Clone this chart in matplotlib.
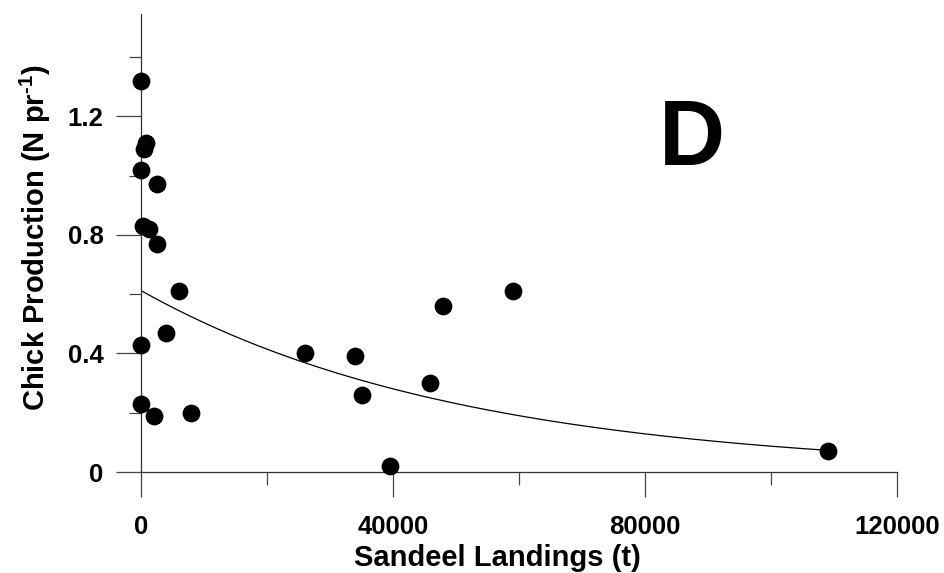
import numpy as np
import matplotlib
matplotlib.use("Agg")
import matplotlib.pyplot as plt
from matplotlib.ticker import FixedLocator

plt.rcParams["font.family"] = ["Liberation Sans", "DejaVu Sans"]
plt.rcParams["font.weight"] = "bold"
plt.rcParams["mathtext.fontset"] = "custom"
plt.rcParams["mathtext.rm"] = "Liberation Sans:bold"
plt.rcParams["mathtext.it"] = "Liberation Sans:bold"
plt.rcParams["mathtext.bf"] = "Liberation Sans:bold"

# Sandeel landings (t) and chick production (chicks per pair)
landings = [0, 800, 500, 0, 2600, 300, 1200, 2500, 6100, 3900, 0,
            0, 2000, 7900, 26000, 34000, 35000, 39500, 45900, 48000,
            59000, 109000]
production = [1.32, 1.11, 1.09, 1.02, 0.97, 0.83, 0.82, 0.77, 0.61, 0.47,
              0.43, 0.23, 0.19, 0.20, 0.40, 0.39, 0.26, 0.02, 0.30, 0.56,
              0.61, 0.07]

# Fitted exponential decline: y = a * exp(-b * x)
fit_a = 0.612
fit_b = 1.95e-5

x_major = [0, 40000, 80000, 120000]
x_minor = [20000, 60000, 100000]
y_major = [0, 0.4, 0.8, 1.2]
y_minor = [0.2, 0.6, 1.0, 1.4]
x_labels = ["0", "40000", "80000", "120000"]
y_labels = ["0", "0.4", "0.8", "1.2"]

fig = plt.figure(figsize=(9.44, 5.73), dpi=100)
W, H = 944, 573
ax = fig.add_axes([141 / W, (H - 472) / H, (897 - 141) / W, (472 - 14) / H])

ax.plot(landings, production, "o", color="black", markersize=11.8,
        clip_on=False, zorder=3)

xf = np.linspace(0, max(landings), 300)
ax.plot(xf, fit_a * np.exp(-fit_b * xf), color="black", linewidth=0.9, zorder=2)

ax.set_xlim(0, 120000)
ax.set_ylim(0, 1.545)

for side in ("top", "right"):
    ax.spines[side].set_visible(False)
for side in ("left", "bottom"):
    ax.spines[side].set_color("#333333")
    ax.spines[side].set_linewidth(0.9)

ax.xaxis.set_major_locator(FixedLocator(x_major))
ax.xaxis.set_minor_locator(FixedLocator(x_minor))
ax.yaxis.set_major_locator(FixedLocator(y_major))
ax.yaxis.set_minor_locator(FixedLocator(y_minor))
ax.set_xticklabels(x_labels)
ax.set_yticklabels(y_labels)

ax.tick_params(which="major", direction="out", length=18, width=0.9,
               color="#444444", labelsize=18.5)
ax.tick_params(which="minor", direction="out", length=9, width=0.9,
               color="#444444")
ax.tick_params(axis="y", which="major", pad=9)
ax.tick_params(axis="x", which="major", pad=13)

fig.text(497 / W, (H - 566) / H, "Sandeel Landings (t)", fontsize=21,
         fontweight="bold", ha="center", va="baseline")
fig.text(35 / W, 1 - 238 / H, r"Chick Production (N pr$^{\text{-1}}$)",
         fontsize=21, fontweight="bold", rotation=90,
         ha="center", va="center")

ax.text(692 / W, 1 - 141 / H, "D", transform=fig.transFigure, fontsize=66,
        fontweight="bold", ha="center", va="center")

fig.savefig("out.png", dpi=100)
